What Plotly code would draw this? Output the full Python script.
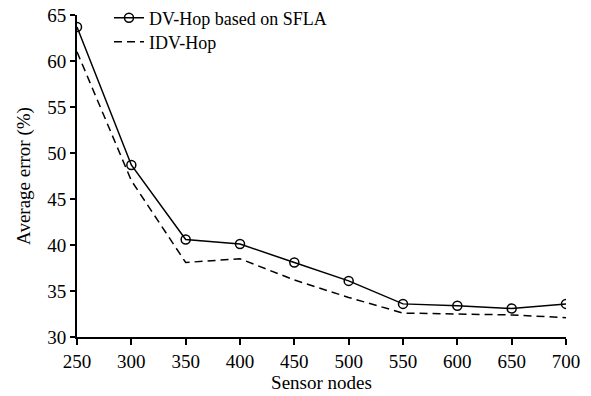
import plotly.graph_objects as go

sensor_nodes = [250, 300, 350, 400, 450, 500, 550, 600, 650, 700]
dv_hop_sfla = [63.7, 48.7, 40.6, 40.1, 38.1, 36.1, 33.6, 33.4, 33.1, 33.6]
idv_hop = [61.0, 47.0, 38.1, 38.5, 36.2, 34.3, 32.6, 32.5, 32.4, 32.1]
y_ticks = [30, 35, 40, 45, 50, 55, 60, 65]

font = "Liberation Serif, Times New Roman, serif"

fig = go.Figure()
fig.add_trace(go.Scatter(
    x=sensor_nodes, y=dv_hop_sfla, name="DV-Hop based on SFLA",
    mode="lines+markers", legend="legend",
    line=dict(color="black", width=1.5),
    marker=dict(symbol="circle-open", size=9, color="black", line=dict(width=1.5)),
))
fig.add_trace(go.Scatter(
    x=sensor_nodes, y=idv_hop, name="IDV-Hop",
    mode="lines", legend="legend2",
    line=dict(color="black", width=1.5, dash="8px,5px"),
))

legend_style = dict(xanchor="left", yanchor="middle", bgcolor="rgba(0,0,0,0)",
                    font=dict(size=18), borderwidth=0)

fig.update_layout(
    width=591, height=396,
    margin=dict(l=77, r=25, t=15, b=59, autoexpand=False),
    paper_bgcolor="white", plot_bgcolor="white",
    font=dict(family=font, size=19, color="black"),
    showlegend=True,
    legend=dict(x=0.0654, y=0.9907, **legend_style),
    legend2=dict(x=0.0654, y=0.9161, **legend_style),
    xaxis=dict(
        range=[250, 700], tickvals=sensor_nodes,
        showgrid=False, zeroline=False, automargin=False,
        showline=True, linecolor="black", linewidth=2,
        ticks="outside", ticklen=6, tickwidth=2, tickcolor="black",
        title=dict(text="Sensor nodes", standoff=4, font=dict(size=19)),
    ),
    yaxis=dict(
        range=[30, 65], tickvals=y_ticks,
        showgrid=False, zeroline=False, automargin=False,
        showline=True, linecolor="black", linewidth=2,
        ticks="outside", ticklen=5, tickwidth=2, tickcolor="black",
        title=dict(text="Average error (%)", standoff=12, font=dict(size=19)),
    ),
)

fig.write_html("out.html", config={"displayModeBar": False},
               post_script="document.body.style.margin='0';")
